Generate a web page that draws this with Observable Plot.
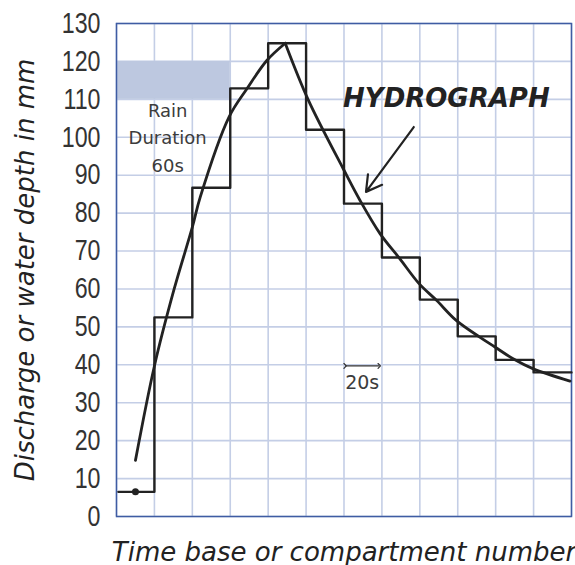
<!DOCTYPE html>
<html>
<head>
<meta charset="utf-8">
<script src="https://cdn.jsdelivr.net/npm/d3@7"></script>
<script src="https://cdn.jsdelivr.net/npm/@observablehq/plot@0.6"></script>
<style>
  html, body { margin: 0; padding: 0; background: #fff; }
</style>
</head>
<body>
<div id="chart"></div>
<script>
// compartment (20 s step) values, mm
const compartments = [0, 1, 2, 3, 4, 5, 6, 7, 8, 9, 10, 11];
const stepValues = [6.5, 52.5, 86.7, 112.9, 124.8, 102.0, 82.5, 68.3, 57.2, 47.5, 41.3, 38.0];

// smooth hydrograph, rising limb
const riseT = [0.5, 1.0, 1.51, 2.0, 2.21, 2.97, 3.44, 3.97, 4.45];
const riseV = [14.8, 39.7, 59.6, 76.3, 84.3, 105.4, 112.8, 120.3, 124.8];
// falling limb
const fallT = [4.45, 5.06, 5.98, 6.42, 6.95, 7.47, 7.98, 8.44, 8.96, 9.58, 9.98, 10.46, 10.98, 11.96];
const fallV = [124.8, 109.8, 91.7, 83.4, 74.6, 68.0, 61.4, 57.0, 51.7, 47.3, 44.7, 41.6, 39.0, 35.7];

const yTicks = d3.range(0, 131, 10);
const xTicks = d3.range(0, 13, 1);

const rainBox = [{x1: 0, x2: 3, y1: 110, y2: 120}];
const rainText = [
  {x: 1.35, y: 106.9, t: "Rain"},
  {x: 1.35, y: 99.7, t: "Duration"},
  {x: 1.35, y: 92.3, t: "60s"}
];

const steps = compartments.map((c, i) => ({x: i === 0 ? 0.05 : c, y: stepValues[i]}));
steps.push({x: 12, y: stepValues[stepValues.length - 1]});

const curve = [
  ...riseT.map((t, i) => ({x: t, y: riseV[i], limb: "rise"})),
  ...fallT.map((t, i) => ({x: t, y: fallV[i], limb: "fall"}))
];

const chart = Plot.plot({
  width: 575,
  height: 565,
  marginLeft: 116,
  marginRight: 4,
  marginTop: 23,
  marginBottom: 49,
  style: {fontFamily: "DejaVu Sans, sans-serif", background: "#fff"},
  x: {domain: [0, 12], axis: null},
  y: {domain: [0, 130], axis: null},
  marks: [
    Plot.gridX(xTicks, {stroke: "#c4cee6", strokeOpacity: 1, strokeWidth: 1.6}),
    Plot.gridY(yTicks, {stroke: "#c4cee6", strokeOpacity: 1, strokeWidth: 1.6}),
    Plot.rect(rainBox, {x1: "x1", x2: "x2", y1: "y1", y2: "y2", fill: "#bdc8e0"}),
    Plot.frame({stroke: "#3f5ca3", strokeWidth: 1.5}),
    Plot.axisY(yTicks, {
      tickSize: 0, tickPadding: 16, label: null,
      fontFamily: "'Liberation Sans', Arial, sans-serif",
      fontSize: 29, fill: "#333"
    }),
    Plot.text(rainText, {x: "x", y: "y", text: "t", fill: "#3c3c3c", fontSize: 18}),
    Plot.line(steps, {x: "x", y: "y", curve: "step-after", stroke: "#222", strokeWidth: 2.4}),
    Plot.line(curve, {x: "x", y: "y", z: "limb", curve: "catmull-rom", stroke: "#222", strokeWidth: 2.8}),
    Plot.dot([{x: 0.5, y: 6.5}], {x: "x", y: "y", r: 3.5, fill: "#222"}),
    Plot.text(["HYDROGRAPH"], {
      x: 8.7, y: 110.3, fontSize: 26, fontWeight: "bold", fontStyle: "italic",
      fill: "#222", textAnchor: "middle"
    }),
    Plot.arrow([{x1: 7.84, y1: 102.7, x2: 6.58, y2: 85.6}], {
      x1: "x1", y1: "y1", x2: "x2", y2: "y2", stroke: "#222", strokeWidth: 2.2,
      headLength: 12
    }),
    Plot.link([{x1: 6.03, x2: 6.93, y: 39.7}], {
      x1: "x1", x2: "x2", y1: "y", y2: "y", stroke: "#333", strokeWidth: 1.2,
      markerStart: "arrow", markerEnd: "arrow"
    }),
    Plot.text([{x: 6.48, y: 35.1}], {x: "x", y: "y", text: () => "20s", fill: "#3c3c3c", fontSize: 19}),
    Plot.text(["Time base or compartment number"], {
      frameAnchor: "bottom", dy: 44, fontSize: 26, fontStyle: "italic", fill: "#222"
    }),
    Plot.text(["Discharge or water depth in mm"], {
      frameAnchor: "left", dx: -91, rotate: -90, textAnchor: "middle", lineAnchor: "middle",
      fontSize: 26, fontStyle: "italic", fill: "#222"
    })
  ]
});

// condense the tick labels horizontally (narrow-font look), anchored at their right edge
d3.select(chart).selectAll('g[aria-label="y-axis tick label"] text').each(function () {
  const t = this.getAttribute("transform");
  if (t) {
    this.setAttribute("transform", t + " scale(0.8,1)");
  } else {
    const x = +this.getAttribute("x") || 0;
    this.setAttribute("transform", `translate(${x},0) scale(0.8,1) translate(${-x},0)`);
  }
});

document.getElementById("chart").appendChild(chart);
</script>
</body>
</html>
